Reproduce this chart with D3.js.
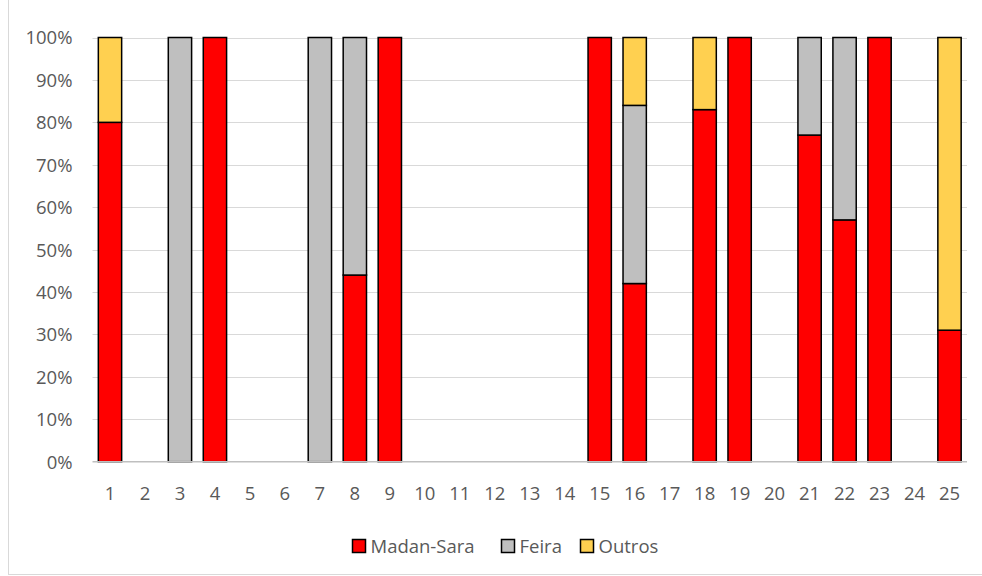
<!DOCTYPE html>
<html><head><meta charset="utf-8">
<script src="https://cdn.jsdelivr.net/npm/d3@7"></script>
<style>body{margin:0;background:#fff}svg{display:block}</style>
</head><body><svg id="c" width="982" height="576"></svg>
<script>
const categories = ["1","2","3","4","5","6","7","8","9","10","11","12","13","14","15","16","17","18","19","20","21","22","23","24","25"];
const madanSara = [80,0,0,100,0,0,0,44,100,0,0,0,0,0,100,42,0,83,100,0,77,57,100,0,31];
const feira     = [0,0,100,0,0,0,100,56,0,0,0,0,0,0,0,42,0,0,0,0,23,43,0,0,0];
const outros    = [20,0,0,0,0,0,0,0,0,0,0,0,0,0,0,16,0,17,0,0,0,0,0,0,69];
const seriesNames = ["Madan-Sara","Feira","Outros"];
const colors = ["#ff0000","#bfbfbf","#ffd050"];
const yTicks = [0,10,20,30,40,50,60,70,80,90,100];

const svg = d3.select("#c");
const font = "'Open Sans', sans-serif";
const m = {left:92.5, right:967, top:37.5, bottom:461.7};

svg.append("rect").attr("x",8.5).attr("y",-1).attr("width",980).attr("height",575.5)
  .attr("fill","#fff").attr("stroke","#d9d9d9").attr("stroke-width",1);

const x = d3.scaleBand().domain(categories).range([m.left,m.right]).paddingInner(1/3).paddingOuter(1/6);
const y = d3.scaleLinear().domain([0,100]).range([m.bottom,m.top]);

// gridlines
svg.append("g").selectAll("line").data(yTicks.filter(d=>d>0)).join("line")
  .attr("x1",m.left).attr("x2",m.right)
  .attr("y1",d=>Math.round(y(d))+0.5).attr("y2",d=>Math.round(y(d))+0.5)
  .attr("stroke","#d9d9d9").attr("stroke-width",1);

// y axis labels
const yAxis = d3.axisLeft(y).tickValues(yTicks).tickFormat(d=>d+"%").tickSize(0).tickPadding(0);
const ya = svg.append("g").attr("transform","translate(72.5,0)").call(yAxis);
ya.select(".domain").remove();
ya.selectAll("text").attr("font-family",font).attr("font-size",18.5).attr("fill","#595959").attr("dy","0.35em");

// stacked data
const rows = categories.map((c,i)=>({cat:c, "Madan-Sara":madanSara[i], "Feira":feira[i], "Outros":outros[i]}));
const stack = d3.stack().keys(seriesNames)(rows);

stack.forEach((s,si)=>{
  svg.append("g").selectAll("rect").data(s.filter(d=>d[1]-d[0]>0)).join("rect")
    .attr("x",d=>x(d.data.cat)).attr("width",x.bandwidth())
    .attr("y",d=>y(d[1])).attr("height",d=>y(d[0])-y(d[1]))
    .attr("fill",colors[si]).attr("stroke","#000").attr("stroke-width",1.5);
});

// x axis
const xAxis = d3.axisBottom(x).tickSize(0).tickPadding(0);
const xa = svg.append("g").attr("transform",`translate(0,${m.bottom})`).call(xAxis);
xa.select(".domain").remove();
xa.selectAll("text").attr("font-family",font).attr("font-size",18.5).attr("fill","#595959")
  .attr("dy",null).attr("y",38);
svg.append("line").attr("x1",m.left).attr("x2",m.right).attr("y1",m.bottom).attr("y2",m.bottom)
  .attr("stroke","#bfbfbf").attr("stroke-width",1.5);

// legend
const legendX = [352.5, 501.5, 580.5];
const lg = svg.append("g");
seriesNames.forEach((n,i)=>{
  lg.append("rect").attr("x",legendX[i]).attr("y",539.5).attr("width",13).attr("height",13)
    .attr("fill",colors[i]).attr("stroke","#000").attr("stroke-width",1.5);
  lg.append("text").attr("x",legendX[i]+18).attr("y",553).text(n)
    .attr("font-family",font).attr("font-size",18.5).attr("fill","#595959");
});
</script></body></html>
